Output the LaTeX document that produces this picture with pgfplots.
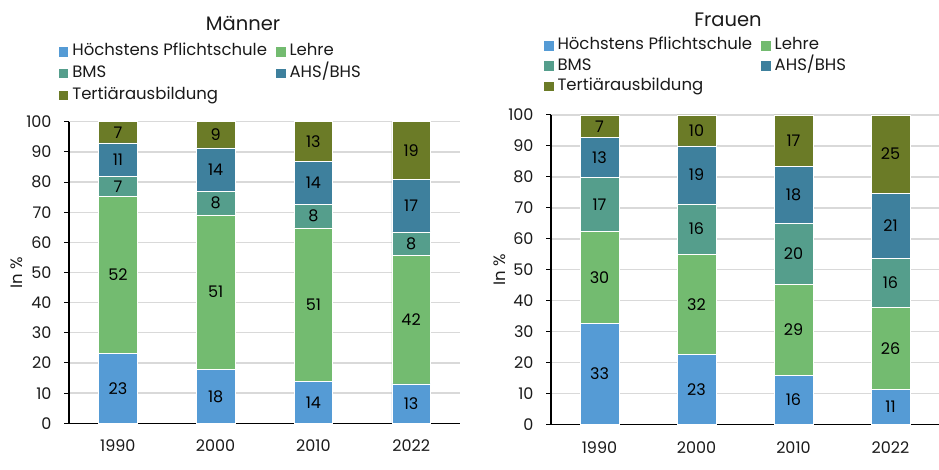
\documentclass[border=0pt]{standalone}
\usepackage{pgfplots}
\pgfplotsset{compat=1.18}
\usepackage{pgfplotstable}
\usepackage{fontspec}
\setmainfont{Poppins}
\newfontfamily\numfont{Poppins}
\definecolor{cP}{HTML}{559BD5}
\definecolor{cL}{HTML}{73BB70}
\definecolor{cB}{HTML}{559E8C}
\definecolor{cA}{HTML}{3E809D}
\definecolor{cT}{HTML}{6B7B27}
\definecolor{gridc}{HTML}{D9D9D9}
\definecolor{txt}{HTML}{1A1A1A}

\pgfplotstableread{
x p l b a t lp ll lb la lt
0 23.2 52.1 6.6 11.1 7.0 23 52 7 11 7
1 17.9 51.2 7.9 14.3 8.7 18 51 8 14 9
2 13.9 50.9 7.9 14.2 13.1 14 51 8 14 13
3 13.1 42.7 7.7 17.4 19.1 13 42 8 17 19
}\men
\pgfplotstableread{
x p l b a t lp ll lb la lt
0 32.7 29.8 17.3 12.9 7.3 33 30 17 13 7
1 22.7 32.4 16.2 18.7 10.0 23 32 16 19 10
2 16.0 29.3 19.7 18.4 16.6 16 29 20 18 17
3 11.3 26.7 15.8 21.0 25.2 11 26 16 21 25
}\women

\newcommand\fs{\fontsize{16.5}{19}\selectfont}
\newcommand\nfs{\numfont\fontsize{16}{19}\selectfont}

\pgfplotsset{
  panel/.style={
    scale only axis, ybar stacked,
    xmin=-0.5, xmax=3.5, ymin=0, ymax=100,
    xtick={0,1,2,3}, xticklabels={1990,2000,2010,2022},
    ytick={0,10,...,100},
    axis x line*=bottom, axis y line*=left,
    axis line style={-, line width=1.3pt, black},
    ymajorgrids, grid style={draw=gridc, line width=1.3pt},
    xtick style={draw=none},
    ytick style={black, line width=1pt},
    tick align=outside, major tick length=5pt,
    tick label style={font=\nfs, text=txt},
    xticklabel style={yshift=-8pt},
    yticklabel style={xshift=-9pt},
    /pgf/number format/assume math mode=true,
    ylabel={In \%},
    label style={font=\fs, text=txt},
    title style={font=\fontsize{19.5}{22}\selectfont, text=txt, anchor=center},
    legend columns=2,
    legend cell align=left,
    legend style={draw=none, fill=none, inner sep=0pt, outer sep=0pt, font=\fs, text=txt,
      anchor=north west, column sep=4pt,
      nodes={inner sep=0pt, text height=12pt, text depth=4pt}},
    /tikz/every even column/.append style={column sep=9pt},
    legend image code/.code={\fill[##1,draw=none] (0pt,-4.7pt) rectangle (9.5pt,4.7pt);},
  }
}

\newcommand\seg[5]{%
  \addplot[fill=#3, draw=white, line width=0.5pt,
    nodes near coords, point meta=explicit symbolic,
    nodes near coords style={anchor=center, font=\nfs, text=black}]
    table[x=x, y=#1, meta=#2] {#4};}

\begin{document}
\begin{tikzpicture}
\useasboundingbox (0pt,0pt) rectangle (939pt,470pt);
\begin{axis}[panel, at={(69pt,46.7pt)}, anchor=south west, width=391pt, height=301.6pt,
  bar width=38.7pt,
  title={Männer}, title style={at={(axis description cs:0.445,1.307)}},
  ylabel style={at={(axis description cs:-0.133,0.5)}, anchor=center},
  legend style={at={(axis description cs:-0.026,1.258)}, row sep=5.7pt}]
\seg{p}{lp}{cP}{\men}{3.016pt}
\seg{l}{ll}{cL}{\men}{3.016pt}
\seg{b}{lb}{cB}{\men}{3.016pt}
\seg{a}{la}{cA}{\men}{3.016pt}
\seg{t}{lt}{cT}{\men}{3.016pt}
\legend{Höchstens Pflichtschule, Lehre, BMS, AHS/BHS, Tertiärausbildung}
\end{axis}
\begin{axis}[panel, at={(551pt,45.3pt)}, anchor=south west, width=388pt, height=309.7pt,
  bar width=39pt,
  title={Frauen}, title style={at={(axis description cs:0.456,1.288)}},
  ylabel style={at={(axis description cs:-0.131,0.5)}, anchor=center},
  legend style={at={(axis description cs:-0.018,1.249)}, row sep=4.3pt}]
\seg{p}{lp}{cP}{\women}{3.097pt}
\seg{l}{ll}{cL}{\women}{3.097pt}
\seg{b}{lb}{cB}{\women}{3.097pt}
\seg{a}{la}{cA}{\women}{3.097pt}
\seg{t}{lt}{cT}{\women}{3.097pt}
\legend{Höchstens Pflichtschule, Lehre, BMS, AHS/BHS, Tertiärausbildung}
\end{axis}
\end{tikzpicture}
\end{document}
